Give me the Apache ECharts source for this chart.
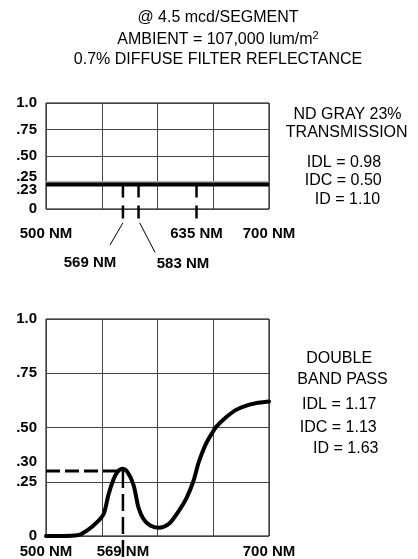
<!DOCTYPE html>
<html><head><meta charset="utf-8">
<script src="https://cdn.jsdelivr.net/npm/echarts@6/dist/echarts.min.js"></script>
<style>html,body{margin:0;padding:0;background:#fff}#c{width:418px;height:559px}</style>
</head><body><div id="c"></div>
<script>
// ---- data ----
const xMinNM = 500, xMaxNM = 700, xStepNM = 50;
const yMin = 0, yMax = 1, yStep = 0.25;
const topXLabels = [500, 635, 700];
const topYLabels = [0, 0.23, 0.25, 0.5, 0.75, 1.0];
const ndTransmission = 0.23;
const ndReference = 0.25;
const markedNM = [569, 583, 635];
const bandWavelengths = [500, 515, 528, 537, 547, 552, 556, 560.5, 564, 568.5, 573, 578.5, 583, 587.5, 593.5, 601, 610, 619, 626, 632, 637, 643, 649, 653, 661, 670, 679, 688, 700];
const bandTransmission = [0, 0, 0.003, 0.026, 0.07, 0.105, 0.19, 0.26, 0.295, 0.31, 0.295, 0.235, 0.13, 0.078, 0.048, 0.038, 0.055, 0.115, 0.175, 0.25, 0.34, 0.42, 0.475, 0.505, 0.545, 0.58, 0.6, 0.612, 0.62];
const bandPeakNM = 569;
const bandPeakLevel = 0.30;
const bottomXLabels = [500, 569, 700];
const bottomYLabels = [0, 0.25, 0.30, 0.5, 0.75, 1.0];
const titleLines = ['@ 4.5 mcd/SEGMENT', 'AMBIENT = 107,000 lum/m{sup|2}', '0.7% DIFFUSE FILTER REFLECTANCE'];
const topNotes = ['ND GRAY 23%', 'TRANSMISSION', 'IDL = 0.98', 'IDC = 0.50', 'ID = 1.10'];
const bottomNotes = ['DOUBLE', 'BAND PASS', 'IDL = 1.17', 'IDC = 1.13', 'ID = 1.63'];

// ---- chart ----
const FF = '"Liberation Sans", Arial, sans-serif';
const chart = echarts.init(document.getElementById('c'), null, {renderer: 'canvas'});
const fmtY = v => v === 0 ? '0' : (v === 1 ? '1.0' : v.toFixed(2).replace(/^0/, ''));
const labelFont = {fontFamily: FF, fontWeight: 'bold', fontSize: 15, color: '#000'};
const rich = {
  up: Object.assign({}, labelFont, {padding: [0, 0, 12, 0]}),
  up2: Object.assign({}, labelFont, {padding: [0, 0, 18, 0]}),
  dn: Object.assign({}, labelFont, {padding: [10, 0, 0, 0]})
};
function xAxis(idx, labels, margin) {
  return {
    type: 'value', gridIndex: idx, min: xMinNM, max: xMaxNM, interval: xStepNM,
    axisLine: {show: false}, axisTick: {show: false},
    splitLine: {show: true, lineStyle: {color: '#444', width: 1}},
    axisLabel: Object.assign({show: true, customValues: labels, margin: margin,
      formatter: v => v + ' NM'}, labelFont)
  };
}
function yAxis(idx, labels, shifts) {
  return {
    type: 'value', gridIndex: idx, min: yMin, max: yMax, interval: yStep,
    axisLine: {show: false}, axisTick: {show: false},
    splitLine: {show: true, lineStyle: {color: '#444', width: 1}},
    axisLabel: Object.assign({show: true, customValues: labels, margin: 9, rich: rich,
      formatter: v => {
        const s = fmtY(v);
        const key = shifts[s];
        return key ? '{' + key + '|' + s + '}' : s;
      }}, labelFont)
  };
}
const seg = (pts, style, z) => ({
  type: 'line', data: pts, symbol: 'none', clip: false, silent: true,
  lineStyle: Object.assign({color: '#000'}, style), z: z || 3, animation: false
});

const series = [];
// top chart
series.push(Object.assign(seg([[xMinNM, ndReference], [xMaxNM, ndReference]], {color: '#b0b0b0', width: 3}, 2), {xAxisIndex: 0, yAxisIndex: 0}));
series.push(Object.assign(seg([[xMinNM, ndTransmission], [xMaxNM, ndTransmission]], {width: 4}, 4), {xAxisIndex: 0, yAxisIndex: 0}));
markedNM.forEach(nm => {
  series.push(Object.assign(seg([[nm, ndTransmission], [nm, -0.09]], {width: 2.5, type: [13, 8]}, 5), {xAxisIndex: 0, yAxisIndex: 0}));
});
series.push(Object.assign(seg([[markedNM[0], -0.13], [557.4, -0.34]], {width: 1}), {xAxisIndex: 0, yAxisIndex: 0}));
series.push(Object.assign(seg([[markedNM[1] + 1, -0.13], [597.8, -0.41]], {width: 1}), {xAxisIndex: 0, yAxisIndex: 0}));
series.push({
  type: 'scatter', xAxisIndex: 0, yAxisIndex: 0, symbolSize: 1, clip: false, silent: true, animation: false,
  itemStyle: {color: '#fff', opacity: 1},
  data: [[539.5, -0.51, markedNM[0]], [622.9, -0.52, markedNM[1]]],
  label: Object.assign({show: true, position: 'inside', textBorderWidth: 0, opacity: 1,
    formatter: p => p.value[2] + ' NM'}, labelFont)
});
// bottom chart
series.push({
  type: 'line', xAxisIndex: 1, yAxisIndex: 1, symbol: 'none', smooth: 0.3,
  data: bandWavelengths.map((w, i) => [w, bandTransmission[i]]), clip: false, animation: false,
  lineStyle: {color: '#000', width: 4, join: 'round', cap: 'round'}, z: 4
});
series.push(Object.assign(seg([[xMinNM, bandPeakLevel], [bandPeakNM, bandPeakLevel]], {width: 3, type: [14, 5]}, 3), {xAxisIndex: 1, yAxisIndex: 1}));
series.push(Object.assign(seg([[bandPeakNM, bandPeakLevel], [bandPeakNM, -0.097]], {width: 2.5, type: [17, 6]}, 3), {xAxisIndex: 1, yAxisIndex: 1}));

const textEl = (t, x, y, extra) => ({
  type: 'text', x: x, y: y, silent: true,
  style: Object.assign({text: t, fill: '#000', font: '16px ' + FF, textAlign: 'center', textVerticalAlign: 'middle'}, extra || {})
});
const graphics = [];
const titleY = [18, 40, 60];
titleLines.forEach((t, i) => graphics.push(textEl(t, 218, titleY[i], {
  rich: {sup: {fontSize: 11, fontFamily: FF, padding: [0, 0, 8, 0], fill: '#000'}}
})));
const topPos = [[347.5, 115], [346.7, 133], [344, 162.5], [343.3, 181], [347.5, 200]];
topNotes.forEach((t, i) => graphics.push(textEl(t, topPos[i][0], topPos[i][1])));
const botPos = [[339.2, 358.3], [342.5, 380], [339.2, 405], [338.3, 427.3], [345.8, 448.3]];
bottomNotes.forEach((t, i) => graphics.push(textEl(t, botPos[i][0], botPos[i][1])));

chart.setOption({
  animation: false,
  backgroundColor: '#fff',
  grid: [
    {left: 46, top: 103, width: 223, height: 106, show: true, borderColor: '#000', borderWidth: 1, backgroundColor: 'transparent'},
    {left: 46, top: 319, width: 223, height: 217, show: true, borderColor: '#000', borderWidth: 1, backgroundColor: 'transparent'}
  ],
  xAxis: [xAxis(0, topXLabels, 17), xAxis(1, bottomXLabels, 8)],
  yAxis: [yAxis(0, topYLabels, {'.25': 'up', '.23': 'dn'}), yAxis(1, bottomYLabels, {'.30': 'up2'})],
  series: series,
  graphic: graphics
});
</script></body></html>
